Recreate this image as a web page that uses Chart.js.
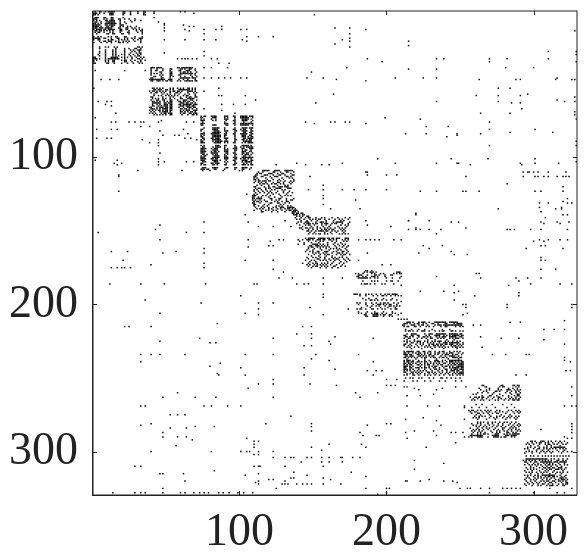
<!DOCTYPE html>
<html>
<head>
<meta charset="utf-8">
<script src="https://cdn.jsdelivr.net/npm/chart.js@4"></script>
<style>
  html, body { margin: 0; padding: 0; background: #fff; }
  canvas { display: block; }
</style>
</head>
<body>
<canvas id="grafico" width="588" height="558"></canvas>
<script>
const tickLabels = [100, 200, 300];

// each row: [row, [columns]]
const bloco1 = [
  [1,[2,5,6,9,11,12,13,14,15,21,22,26,31,35,36]],
  [2,[1,2,3,5,8,12,13,14,21,22,26,31,35]],
  [3,[1,2,4,12,13,14,21,26,35]],
  [5,[2,3,4,8,9,13,14,21]],
  [6,[1,2,3,8,10,13,14,18,19,22,25,29]],
  [7,[1,3,5,9,10,12,13,14,15,19,26,29,33]],
  [8,[2,3,6,10,11,12,13,14,15,19,22,27]],
  [9,[1,2,4,6,9,10,11,12,13,14,15,16,19,23]],
  [10,[1,2,3,4,5,9,10,12,13,14,15,19,20,21]],
  [11,[1,2,3,4,6,10,11,13,14,19,21,24,26,30]],
  [12,[1,2,3,5,6,7,9,10,11,12,13,18,19,23,24,27,29,32]],
  [13,[1,3,4,5,6,8,9,11,12,13,14,15,19,20,23,24,28,30,32,34]],
  [14,[2,3,5,6,8,10,12,14,19,20,25,30,33,34]],
  [15,[2,4,5,8,12,14,19,24,25,31,34]],
  [16,[3,10,11,14,15,20,21,25,34]],
  [18,[1,4,6,11,13,16,17,22,23,29,34]],
  [19,[1,2,3,4,5,8,9,13,17,18,22,24,27,29,32,33,34]],
  [20,[1,4,5,11,13,14,18,20,22,24,28,31,33]],
  [21,[5,8,9,11,12,13,16,18,21,23,25,29,33]],
  [22,[1,6,10,13,18,19,21,24,33]],
  [25,[5,9,11,15,17,31,32,34]],
  [26,[5,16,22,25,29,30,33]],
  [27,[9,14,16,22,26,28,31,32,33]],
  [28,[5,9,14,16,22,27,29,32]],
  [29,[5,9,14,16,22,26,30,32,33]],
  [30,[4,9,14,16,20,22,25,28,31,33]],
  [31,[5,9,14,16,18,22,26,29,31,32]],
  [32,[1,2,9,13,14,15,16,17,20,22,24,27,30,33,35]],
  [33,[1,2,3,5,9,11,12,13,14,15,16,17,18,22,27,31,32,34]],
  [34,[1,3,9,11,14,15,20,22,23,26,29,33,36]],
  [35,[1,9,11,14,15,22,23,27,31,33]],
  [36,[1,2,10,11,15,20,24,28,32,34]]
];

const bloco2 = [
  [39,[40,41,42,44,45,46,47,58,59,61,62,63,64,65,66,67,68]],
  [40,[40,44,48,53,54,60,61,63,66,67,70]],
  [41,[40,43,44,48,53,59,60,64,65,66,70]],
  [42,[40,46,47,53,54,60,62,63,65,67,71]],
  [43,[40,42,44,47,53,54,60,61,62,63,64,65,66,67,68,70]],
  [44,[40,46,48,53,54,59,60,67,70]],
  [45,[42,43,47,53,55,60,63,68,71]],
  [46,[40,41,47,48,53,60,61,62,63,64,65,66,68,69,70]],
  [47,[39,40,41,42,43,44,45,46,47,48,49,52,53,54,59,62,65,70]],
  [48,[40,41,44,45,46,48,50,51,53,54,58,60,63,64,65,66,67,68,70,71]],
  [53,[41,42,44,46,48,53,55,58,60,62,65,66,68,70]],
  [54,[42,43,45,46,47,50,51,53,55,59,60,61,62,63,64,65,66,68,70]],
  [55,[39,41,42,44,46,48,50,53,55,56,58,59,61,65,66,67,68,70]],
  [56,[40,43,44,47,49,53,57,58,60,65,69,71]],
  [57,[42,48,51,53,56,59,63,66,70]],
  [58,[42,45,47,50,52,54,56,58,62,64,65,70]],
  [59,[40,41,48,53,55,60,64,66,67,70,71]],
  [60,[41,43,45,48,50,53,56,60,61,65,66,67,68,69]],
  [61,[40,44,45,48,49,53,54,58,62,63,64,67,68,71]],
  [62,[41,42,44,46,49,51,53,54,59,60,62,63,65,66,69]],
  [63,[41,42,43,44,45,46,49,50,52,53,54,60,61,62,64,65,67,68,70]],
  [64,[41,44,46,49,50,51,53,54,59,60,62,63,64,65,66,67,69,70,71]],
  [65,[41,42,45,47,49,50,51,53,54,60,61,62,64,65,66,68,69]],
  [66,[39,40,44,46,47,48,50,51,53,54,59,62,65,66,67,69,70]],
  [67,[40,41,42,44,46,48,49,50,51,53,54,60,61,63,64,66,68,71]],
  [68,[39,41,43,45,46,48,50,51,53,54,60,62,64,65,66,69,70,71]],
  [69,[40,42,46,48,49,50,51,53,60,61,63,65,67,68,70]],
  [70,[39,41,43,47,49,50,52,53,54,60,62,63,66,67,69,70,71]],
  [71,[42,44,46,48,50,53,54,61,65,68,69,71]]
];

const bloco3 = [
  [72,[74,76,77,81,82,83,84,90,91,92,96,97,101,102,103,104,105,107,108,109]],
  [73,[74,75,82,83,84,90,92,97,101,102,103,104,105,106,109]],
  [74,[74,76,81,84,90,91,92,97,102,103,104,105,106,108]],
  [75,[74,75,76,82,84,91,96,97,102,103,104,105,109]],
  [76,[75,90,97,103,108]],
  [77,[74,75,76,90,91,92,96,97,101,102,103,104,105,106,107,108,109]],
  [78,[74,75,82,83,84,91,92,97,101,102,103,104,105,106,109]],
  [80,[76,82,83,84,85,86,90,97,102,103,104,105,107,108,109]],
  [81,[74,75,82,83,84,85,90,96,97,101,103,104,108]],
  [82,[74,83,84,85,86,90,91,92,97,98,102,103,104,105,108,109]],
  [83,[76,82,83,84,85,86,87,91,97,103,104,107,108]],
  [84,[74,75,76,81,82,83,84,85,86,90,91,96,97,101,102,103,104,105,108,109]],
  [85,[74,76,82,83,84,85,86,87,90,91,97,102,103,104,107,108]],
  [86,[74,75,82,83,84,85,86,87,90,97,102,103,104,106,108,109]],
  [87,[75,76,81,82,84,85,86,90,91,92,97,103,104,106,107,108,109]],
  [88,[74,76,82,83,84,85,86,87,91,97,98,102,103,105,107,108]],
  [89,[74,75,82,84,85,86,87,88,90,91,92,97,103,104,105,106,107,108]],
  [90,[74,75,76,83,84,85,86,87,90,92,96,97,102,104,106,107,108,109]],
  [92,[74,76,84,85,86,90,91,97,102,103,104,105,106,108]],
  [93,[75,76,82,84,85,86,87,90,97,98,101,103,105,106,107,108,109]],
  [94,[74,75,76,77,81,83,84,85,90,92,96,97,98,102,103,107,108,109]],
  [95,[74,75,76,82,83,84,85,90,91,92,97,98,102,104,105,108]],
  [96,[74,75,76,77,81,83,84,86,90,91,92,97,102,103,104,107,108]],
  [97,[74,75,76,81,82,83,84,85,91,92,96,97,102,103,105,106,109]],
  [98,[75,76,78,82,84,85,90,92,97,98,102,104,105,106,108]],
  [99,[74,76,77,83,84,85,86,90,91,97,103,104,107]],
  [100,[74,75,76,82,83,84,85,86,90,91,92,96,97,98,102,103,104,105,106,107,108,109]],
  [101,[74,75,76,77,81,82,84,85,90,91,92,97,98,101,103,104,106,108]],
  [102,[74,75,76,82,83,84,85,87,91,96,97,102,103,104,105,108,109]],
  [103,[75,76,77,83,84,85,90,92,97,102,104,105,106,107,108]],
  [104,[74,75,81,82,84,85,86,91,97,98,103,105,108]],
  [105,[74,76,77,82,83,85,90,91,96,97,102,103,104,106,108,109]],
  [107,[75,76,77,82,83,84,85,91,92,97,98,102,103,104,105,108]],
  [108,[74,75,76,78,79,83,84,90,97,102,103,107]]
];

const bloco4 = [
  [109,[116,117,118,119,120,124,125,126,127,131,132,133,134,135,136]],
  [110,[113,116,123,124,128,132,133,137]],
  [111,[112,114,115,120,121,122,126,129,130,135]],
  [112,[111,112,117,118,119,123,127,128,131,136,137]],
  [113,[110,111,115,116,121,124,125,126,132,133,135]],
  [114,[110,112,118,122,129,134,136]],
  [115,[111,113,119,123,127,130,137]],
  [116,[111,113,114,116,117,118,120,121,126,128,131,135,137]],
  [117,[110,113,115,118,123,126,127,130,134,136]],
  [118,[114,116,117,119,122,124,125,128,130,135]],
  [119,[112,115,120,126,131,133]],
  [120,[110,111,117,120,123,124,127,128,129,131,132,133]],
  [121,[111,113,114,118,120,121,125,126,127,128,133,134,135]],
  [122,[110,112,115,118,122,124,129,131]],
  [123,[113,116,119,121,126,130,134]],
  [124,[111,114,117,120,122,125,130,133,136]],
  [125,[110,112,119,123,127,132]],
  [126,[109,110,111,116,118,121,128,131,133,135]],
  [127,[109,113,115,120,124,129]],
  [128,[109,110,112,113,114,115,121,122,127,128,132,137]],
  [129,[109,111,114,117,122,125,127,132,135,136]],
  [130,[110,112,113,115,118,119,124,126,129,132,133]],
  [131,[109,110,114,121,122,126,127,131,134]],
  [132,[110,111,117,120,128,130]],
  [133,[110,113,116,119,125,127,129,133,135]],
  [134,[111,115,117,120,123,125,128,129,130,133,134,135,136,137]],
  [135,[112,114,116,120,122,126,128,131,133,134,136,138]],
  [136,[110,115,118,120,123,125,129,132,134,135,137,138,139]],
  [137,[115,116,122,126,131,136,137,138,140]]
];

const bloco5 = [
  [138,[136,137,139,140,142,143]],
  [139,[137,138,139,141,143,144]],
  [140,[139,141,143,146,147]],
  [141,[138,142,145,147,148,152,156,158,163,167,172,175]],
  [142,[139,141,144,148,150,152,154,155,158,161,165,168,170,174]],
  [143,[142,146,149,153,159,164,169,171]],
  [144,[140,142,145,146,147,152,155,156,157,159,164,166,167,168,169,170,175]],
  [145,[139,144,146,147,148,150,152,153,156,158,159,160,163,165,166,170,174]],
  [146,[141,145,147,148,151,156,159,162,169,172,174]],
  [147,[143,149,153,157,161,167,173]],
  [148,[141,142,145,146,148,150,153,155,158,160,162,165,168,170,172]],
  [149,[143,147,150,153,156,158,159,161,163,164,169,171]],
  [150,[146,147,149,152,154,155,156,157,159,160,163,165,167,170,172]],
  [151,[148,151,158,162,166,171]],
  [152,[147,150,152,154,155,158,160,163,168,170,172,174]],
  [155,[145,147,148,149,150,151,154,155,156,157,158,160,161,163,164,166,167,168,172,173,174]],
  [156,[140,143,146,147,148,150,153,154,155,157,158,161,162,164,166,170,172,174]],
  [157,[141,147,152,155,157,163,166,171,173]],
  [158,[144,149,154,160,165,169]],
  [159,[140,144,150,151,152,153,155,157,160,164,167,170,172]],
  [160,[148,149,152,153,154,156,158,160,165,168,171,174]],
  [161,[147,149,150,153,155,157,159,161,166,170,173]],
  [162,[147,151,155,159,162,164,166,168,172]],
  [163,[146,150,156,161,167,169,173]],
  [164,[145,148,150,153,154,158,159,160,164,166,170,171,174]],
  [165,[150,152,154,157,159,163,167,168,170,173]],
  [166,[147,151,155,158,160,161,166,169,171,172,175]],
  [167,[149,154,159,163,170]],
  [168,[146,150,152,155,158,163,165,168,170,173]],
  [169,[147,153,154,158,161,164,166,167,171,174]],
  [170,[145,149,151,155,157,159,162,165,168,172,175]],
  [171,[148,152,160,164,169,173]],
  [172,[143,147,150,152,153,156,158,160,163,168,171]],
  [173,[146,148,151,153,155,157,159,162,166,170]],
  [174,[147,150,152,153,156,158,160,164,165,169,172]],
  [175,[149,155,159,163,167]]
];

const bloco6 = [
  [177,[186,187,190]],
  [178,[185,187,189,190,191,193,207,208,209]],
  [179,[179,181,184,190,192,196,198,205,207,209]],
  [180,[181,182,183,187,192,193,195,199,203,204]],
  [181,[180,181,184,186,190,191,192,194,199]],
  [182,[181,182,183,184,185,186,187,189,192,194,200,204,209]],
  [184,[184,190,192,194,200,203,204,208]],
  [186,[183,185,186,187,189,192,197,199,205]],
  [193,[178,179,180,182,186,188,190,193,196,199,201,202,204,205,206,207]],
  [194,[182,186,191,194,197,198,200,203,206,208]],
  [196,[184,188,193,198,204]],
  [197,[186,189,190,192,194,197,200,203,207]],
  [199,[180,182,186,190,193,196,198,199,201,205,208]],
  [200,[181,186,191,194,195,196,198,200,202,203,207]],
  [201,[187,190,193,195,199,202,203,205,207,209]],
  [202,[183,189,196,201,206]],
  [203,[180,182,183,186,190,191,194,197,199,203,206,207]],
  [205,[181,187,192,198,204]],
  [206,[181,183,186,190,192,193,194,197,200,204,206]],
  [207,[185,186,191,192,193,194,196,198,199,202,203,208]],
  [208,[186,187,191,192,193,194,198,202,204]],
  [210,[208,210,212,214]]
];

const bloco7 = [
  [212,[214,215,216,218,222,224,225,226,229,233,234,235,236,237,238,239,240,243,244,245,246,247,248]],
  [213,[212,213,214,216,219,221,222,225,227,231,232,235,240,241,246,248,249,250,251]],
  [214,[211,212,217,218,219,222,224,225,228,233,235,236,237,239,240,241,242,243,244,245,246,247,248,249,250,251]],
  [215,[212,214,215,219,220,223,227,229,232,237,240,241,247,250,252]],
  [217,[213,217,222,226,231,238,243]],
  [218,[213,215,216,218,221,224,225,226,229,233,236,238,239,244,245,247,250,252]],
  [220,[214,217,218,219,220,226,229,230,231,234,235,236,237,238,239,240,243,244,245,246,247,248,250,251]],
  [221,[212,213,217,218,221,222,227,229,233,234,235,236,239,241,243,245,246,247,248,249,251,252]],
  [222,[213,214,216,218,222,225,226,228,230,234,236,238,239,240,243,244,245,246,247,250,251]],
  [223,[212,215,216,221,224,227,230,231,235,237,239,243,245,247,248,249,252]],
  [224,[214,219,228,233,241,246]],
  [225,[212,214,216,219,221,222,223,226,228,231,233,235,236,237,240,242,245,248,250]],
  [226,[214,217,218,221,223,225,228,230,232,236,239,240,241,243,244,245,246,247,248,249,252]],
  [227,[212,213,216,220,223,225,229,231,232,234,235,237,238,240,241,243,244,245,248,250,252]],
  [228,[212,215,217,221,224,227,229,232,233,235,237,239,244,246,247,249,251]],
  [229,[214,216,219,222,226,228,230,233,236,238,240,242,245,247,248,250,252]],
  [230,[217,224,231,239,248]],
  [232,[212,214,215,216,217,218,221,222,225,226,229,230,233,236,238,239,243,246,248,250]],
  [233,[212,213,215,218,220,222,223,226,228,230,233,235,236,239,241,243,244,245,249,252]],
  [234,[212,213,214,216,217,221,222,224,226,229,230,233,235,238,240,241,242,245,247,248,251]],
  [235,[213,214,216,217,218,222,223,225,227,229,231,232,237,240,243,244,245,246,249]],
  [236,[212,213,215,217,219,221,224,226,227,230,232,233,236,238,239,241,245,246,247,248,250,251]],
  [237,[214,220,226,234,242,249]],
  [238,[212,214,215,216,218,222,226,229,233,234,235,238,240,243,244,245,246,247,248,249,250,251]],
  [239,[212,214,215,217,218,221,222,224,226,227,230,233,235,236,238,241,243,244,245,247,249,251,252]],
  [240,[212,213,215,216,218,220,223,226,228,230,232,234,236,239,240,243,245,246,248,250,251,252]],
  [241,[212,214,216,217,221,222,224,226,228,229,232,235,237,238,242,244,246,247,249,250,251,252]],
  [242,[212,213,214,216,218,223,226,229,231,233,234,238,240,241,243,245,248,249,250,251,252]],
  [243,[212,213,216,217,220,221,222,224,226,227,229,232,233,236,239,243,245,246,247,248,249,251,252]],
  [244,[212,213,214,216,218,222,226,230,233,234,236,240,241,244,246,247,248,250,251,252]],
  [245,[212,214,216,219,221,223,225,227,231,235,238,241,244,245,246,248,249,252]],
  [246,[212,213,217,218,220,222,224,228,229,231,233,236,238,241,243,246,248,250,251,252]],
  [247,[214,216,218,221,223,226,229,232,234,237,240,242,245,247,249,250,251,252]],
  [248,[212,214,218,219,222,226,228,230,233,236,239,243,245,248,250,252]],
  [250,[213,216,218,222,224,229,232,237,238,241,244,247,250]],
  [252,[212,218,221,226,230,236,240,247,251]]
];

const bloco8 = [
  [255,[265,266,278,279,286,287,289,290]],
  [256,[267,268,277,279,280,288,290]],
  [257,[263,270,276,283,286,289]],
  [258,[264,268,270,276,278,282,283,284,287,289,291]],
  [259,[266,268,274,275,277,282,285,288,290]],
  [260,[262,265,269,273,281,284,288,291]],
  [261,[259,261,272,277,285,289,290]],
  [262,[265,270,271,275,279,283,287,289,290]],
  [263,[260,261,263,265,266,269,273,276,277,283,285,288,291]],
  [264,[259,262,265,268,272,276,278,281,284,286,288,290]],
  [265,[258,260,264,266,270,274,276,280,283,286,287,289,290]],
  [268,[261,265,272,279,285]],
  [270,[258,263,268,274,282,287]],
  [272,[256,258,259,262,264,267,269,271,275,277,283,285,288,290]],
  [273,[257,260,261,265,268,270,274,277,279,282,286,289,291]],
  [274,[258,262,263,266,269,272,275,276,281,287,290]],
  [275,[261,264,270,278,284]],
  [276,[260,263,265,267,271,275,277,280,283,285,288,290]],
  [277,[259,261,263,270,273,275,279,282,284,287,289]],
  [278,[262,268,274,281,288]],
  [280,[262,264,266,269,272,274,277,280,282,285,288]],
  [281,[258,262,264,269,272,276,279,284,287,290]],
  [282,[259,261,264,267,270,273,276,279,283,286,289,291]],
  [283,[261,263,266,268,272,275,278,281,285,287,290]],
  [284,[257,262,265,268,270,274,279,280,284,286,288]],
  [285,[259,261,263,266,269,273,276,279,283,285,288,290]],
  [286,[258,260,263,265,271,275,277,280,282,285,289,291]],
  [287,[259,262,264,267,272,275,277,282,283,286,288]],
  [288,[258,262,264,266,267,269,274,275,276,280,282,284,286,287,288,289,290]],
  [289,[257,258,259,260,261,262,263,264,265,272,273,274,275,276,281,282,283,285,286,287,288]],
  [290,[256,258,262,263,264,265,269,273,274,275,276,278,280,281,285,287]]
];

const bloco9 = [
  [293,[298,299,301,305,306,307,310,312,315,318,321]],
  [294,[296,299,302,304,305,308,310,313,317,319,323]],
  [295,[295,297,300,304,308,310,311,314,316,320,322]],
  [296,[298,303,309,312,318]],
  [297,[296,298,301,304,307,309,312,314,315,316,317,318,319,320,321]],
  [298,[294,296,300,303,304,307,309,311,313,315,318,320,322]],
  [299,[297,302,306,310,316,321]],
  [300,[295,297,299,302,305,307,309,311,313,317,320,323]],
  [301,[294,299,304,308,312,319]],
  [303,[295,298,300,303,306,308,310,312,314,316,318,320,322,324]],
  [305,[295,296,297,298,299,300,301,302,303,304,305,306,307,308,309,312,314,317,320,323]],
  [306,[293,295,297,299,301,304,306,308,310,312,316,317,320,322]],
  [307,[294,295,298,301,302,305,306,307,308,309,310,311,312,314,315,316,318,319,320,321,322]],
  [308,[296,300,303,307,309,311,313,317,321]],
  [309,[294,297,299,301,303,305,308,310,311,313,315,318,321,323]],
  [310,[298,302,306,309,312,316,319]],
  [311,[295,298,300,304,307,308,310,311,313,314,317,318,319,322]],
  [312,[296,298,300,302,306,309,311,312,315,316,317,319,321]],
  [313,[294,299,304,308,310,314,320]],
  [314,[295,297,299,302,305,307,309,313,316,318,320,323]],
  [315,[298,303,306,311,315,319]],
  [316,[294,296,298,301,303,306,307,308,309,310,311,312,313,314,318,322]],
  [317,[296,300,303,305,308,310,311,313,314,316,319,321]],
  [318,[295,297,301,303,305,307,309,312,314,318,319,320,322]],
  [319,[294,298,300,302,306,309,311,315,317,319,320,321,323]],
  [320,[295,298,301,305,307,309,310,313,314,317,318,320,322]],
  [321,[296,299,302,304,308,311,312,315,319,322,323]],
  [322,[294,297,300,303,306,307,310,313,317,320,322,323]],
  [323,[295,299,303,305,309,311,312,313,316,320,321]]
];

const foraDosBlocos = [
  [1,[36,42,60,63]],
  [2,[42,69]],
  [3,[36,151]],
  [5,[42]],
  [8,[45]],
  [9,[49]],
  [10,[49,62]],
  [11,[66,69,88]],
  [12,[49,165,175]],
  [13,[63,76,84,88,101,105,186]],
  [14,[49,66,328]],
  [16,[76,175]],
  [18,[105,113,123]],
  [19,[175]],
  [20,[49,63,76,84,102,170]],
  [21,[105,175,215]],
  [23,[165]],
  [24,[215]],
  [25,[175]],
  [28,[76,310,329]],
  [29,[49]],
  [30,[329]],
  [31,[76]],
  [33,[58,61,63,65,68,71,81,85,187,234,239,270,282,310]],
  [35,[197,270,329]],
  [36,[86,93]],
  [39,[76,81,92,173,281,300]],
  [40,[215,234]],
  [41,[2,22,36]],
  [42,[149]],
  [46,[76,81,86,90,94,101,105,146,157,206,225,234,316]],
  [47,[6,12,18,166,263,288,291,315,326,328]],
  [48,[186]],
  [53,[1,86,276,284]],
  [55,[76]],
  [57,[164,296]],
  [58,[86,88,104,261,276,291]],
  [59,[328]],
  [61,[111,316]],
  [62,[4,10,13,234,276,321,328]],
  [63,[152,285,291]],
  [64,[9,88,96,104]],
  [65,[13]],
  [67,[76,292]],
  [68,[88]],
  [69,[328]],
  [70,[16,97,264,284]],
  [71,[328]],
  [73,[2,199]],
  [74,[223,329]],
  [75,[47]],
  [76,[13,16,25,29,33,35,45,64,69,145,162,165,172,175,270]],
  [77,[151,186]],
  [79,[33,39,227,242]],
  [81,[3,13,17,62,270,301]],
  [82,[46]],
  [83,[284,313]],
  [84,[65,213,227,248,264]],
  [85,[48,56,59,248]],
  [86,[241]],
  [87,[3,10,13,63,67]],
  [88,[34,45,71]],
  [89,[329]],
  [90,[39,45]],
  [92,[45,270,329]],
  [97,[46]],
  [101,[45,194,244,269,301]],
  [102,[2,17]],
  [103,[45,49,64,69,329]],
  [104,[15,20,139,170,206,234,248,249,291,301,317]],
  [105,[17,45,125,145,156,161,257,292]],
  [109,[31,61,75,80,89,100,102]],
  [110,[186,187,293,296,297,300,303,310,322]],
  [112,[18,187,200,207]],
  [113,[18,111,148,254,293,301,303,307,310,316,320,322,324]],
  [115,[110]],
  [118,[282]],
  [119,[157]],
  [120,[320]],
  [122,[147,157,170,178,186,200]],
  [123,[18,110,223,234,252,254,263,301,305,320]],
  [125,[105]],
  [126,[157]],
  [127,[110]],
  [128,[157,323]],
  [129,[179]],
  [130,[110,320]],
  [131,[304,310,323,326]],
  [132,[110,157]],
  [134,[304,319]],
  [135,[162,182,276,315,319]],
  [137,[305]],
  [138,[220]],
  [139,[104,220,320,323]],
  [141,[308]],
  [143,[131,186,215,215,229]],
  [144,[76,106,244,249,305,316,324]],
  [145,[307,318]],
  [146,[46,187]],
  [147,[113,123,135,203]],
  [148,[220,254]],
  [149,[43,215,220,223,229,237,282,284,287,298,305,323]],
  [151,[4,76,64]],
  [152,[234]],
  [156,[46,106,127,130,181,186,189,192,195,205,210,304,310,318,323]],
  [157,[121,300,307]],
  [160,[120,123,225,238,305,308]],
  [161,[106]],
  [162,[76,229,295,320]],
  [164,[57,13,24,244]],
  [165,[48,76,187,222]],
  [166,[246,255]],
  [168,[305]],
  [170,[21,104,123,181,305,308]],
  [172,[76]],
  [173,[40,197,203]],
  [175,[13,17,20,22,26,76]],
  [176,[123,305,315]],
  [178,[130]],
  [179,[261,263,210]],
  [181,[210,234]],
  [182,[127,136,157,170,264,288,296,305]],
  [184,[290]],
  [186,[12,33,49,77,110,112,139,144,147,157,298,318,326]],
  [187,[210,246,283]],
  [191,[223,239,249]],
  [192,[246,290]],
  [193,[157,330]],
  [194,[101,210,260,290]],
  [195,[157]],
  [197,[36,246]],
  [198,[210]],
  [199,[74,113,123]],
  [200,[252,254,282,326]],
  [202,[148,254,282,326]],
  [203,[113,174]],
  [206,[46,104,210,255]],
  [207,[113,157,252]],
  [211,[321]],
  [212,[284,291]],
  [213,[85]],
  [214,[259,264]],
  [215,[22,25,40,143,149]],
  [217,[307,314,321]],
  [220,[139,149]],
  [222,[165,264]],
  [223,[73,123,149,191,278,290]],
  [224,[307]],
  [225,[46,161]],
  [226,[80,84]],
  [227,[162,321]],
  [228,[144,149]],
  [229,[265]],
  [234,[33,40,46,63,104,123,152,181,272,281,295,297]],
  [236,[321]],
  [237,[149]],
  [238,[161,321]],
  [239,[33,191,325]],
  [240,[87]],
  [242,[80]],
  [243,[101,144]],
  [244,[165]],
  [245,[187,193,197,322,325]],
  [247,[85]],
  [248,[86,104,144,191,288,295]],
  [251,[123,200,207]],
  [254,[113,123,148]],
  [255,[166,200,203,206]],
  [256,[212,214,247,254,326]],
  [257,[106,219,238]],
  [258,[222,234]],
  [260,[58,179,194]],
  [262,[214,223,326]],
  [261,[232]],
  [263,[48,70,84,123,182,257,263]],
  [269,[33,36,76,81,92,101,214,228,236,253,321,326,329]],
  [270,[253]],
  [275,[53,58,63]],
  [276,[135]],
  [277,[225]],
  [278,[213,253]],
  [279,[234]],
  [281,[40,118,149,200,203,326]],
  [282,[33,187,237]],
  [283,[70,83,149,326]],
  [284,[53,64]],
  [285,[305,326]],
  [286,[149,219,232]],
  [287,[48,182,213,244,247,252,326]],
  [289,[184,193,195,234]],
  [290,[48,58,64,253,321]],
  [291,[105,214,323,326]],
  [292,[68]],
  [293,[110,113]],
  [294,[247]],
  [295,[110,161,183]],
  [296,[57]],
  [297,[110,149,186,227]],
  [299,[156]],
  [300,[40,81,101,105,107,113,123,326]],
  [302,[110,113]],
  [304,[123,131,135,137,146,149,156,161,169,170,177,182]],
  [306,[219]],
  [307,[142,156,161,170]],
  [308,[239]],
  [310,[29,33,110,113,114,131,157]],
  [312,[219]],
  [313,[83]],
  [314,[137,176]],
  [315,[46,48,62,113]],
  [316,[104,146]],
  [317,[186]],
  [318,[135,137,157]],
  [319,[120,123,162,229]],
  [320,[63,113,131,213,214,223,239,245]],
  [321,[111,248]],
  [322,[113,129,131,133,139,143,146,149,157,169]],
  [325,[48,125,186,200,202,250,255,257,264,270,279,282,285,288,291,311,326]],
  [328,[14,29,33,36,48,60,63,69,73,76,79,86,89,93,99,103,109,200,270,300,316,321]],
  [329,[194]]
];

const matriz = [bloco1, bloco2, bloco3, bloco4, bloco5, bloco6, bloco7, bloco8, bloco9, foraDosBlocos];

function montarPontos() {
  const pontos = [];
  matriz.forEach(linhas => {
    linhas.forEach(([linha, colunas]) => {
      colunas.forEach(coluna => pontos.push({ x: coluna, y: linha }));
    });
  });
  return pontos;
}

const moldura = {
  id: "moldura",
  afterDraw(chart) {
    const { ctx, chartArea: a, scales } = chart;
    ctx.save();
    ctx.strokeStyle = "#222";
    ctx.lineWidth = 1;
    ctx.strokeRect(a.left, a.top, a.right - a.left, a.bottom - a.top);
    ctx.fillStyle = "#222";
    ctx.fillRect(a.left - 1, a.top, 1, a.bottom - a.top + 1);
    ctx.fillRect(a.left, a.bottom, a.right - a.left, 1);
    ctx.beginPath();
    tickLabels.forEach(v => {
      const x = Math.round(scales.x.getPixelForValue(v)) + 0.5;
      const y = Math.round(scales.y.getPixelForValue(v)) + 0.5;
      ctx.moveTo(x, a.bottom);
      ctx.lineTo(x, a.bottom - 4);
      ctx.moveTo(x, a.top);
      ctx.lineTo(x, a.top + 4);
      ctx.moveTo(a.left, y);
      ctx.lineTo(a.left + 4, y);
      ctx.moveTo(a.right, y);
      ctx.lineTo(a.right - 4, y);
    });
    ctx.stroke();
    ctx.restore();
  }
};

function eixo(reverso, tamanho, espaco) {
  return {
    type: "linear",
    min: 0.5,
    max: 329.5,
    reverse: reverso,
    grid: { display: false },
    border: { display: false },
    afterBuildTicks(scale) {
      scale.ticks = tickLabels.map(v => ({ value: v }));
    },
    afterFit(scale) {
      if (scale.isHorizontal()) {
        scale.height = tamanho;
        scale.paddingLeft = 0;
        scale.paddingRight = 0;
      } else {
        scale.width = tamanho;
        scale.paddingTop = 0;
        scale.paddingBottom = 0;
      }
    },
    ticks: {
      autoSkip: false,
      maxRotation: 0,
      padding: espaco,
      color: "#222",
      font: { family: "'Liberation Serif'", size: 46 }
    }
  };
}

new Chart(document.getElementById("grafico"), {
  type: "scatter",
  data: {
    datasets: [{
      data: montarPontos(),
      pointStyle: "rect",
      pointRadius: 1.05,
      pointBorderWidth: 0,
      backgroundColor: "#000"
    }]
  },
  options: {
    responsive: false,
    animation: false,
    layout: { padding: { top: 11, right: 11, left: 0, bottom: 0 } },
    plugins: { legend: { display: false }, tooltip: { enabled: false } },
    scales: {
      x: eixo(false, 63, 2),
      y: eixo(true, 93, 7)
    }
  },
  plugins: [moldura]
});
</script>
</body>
</html>
